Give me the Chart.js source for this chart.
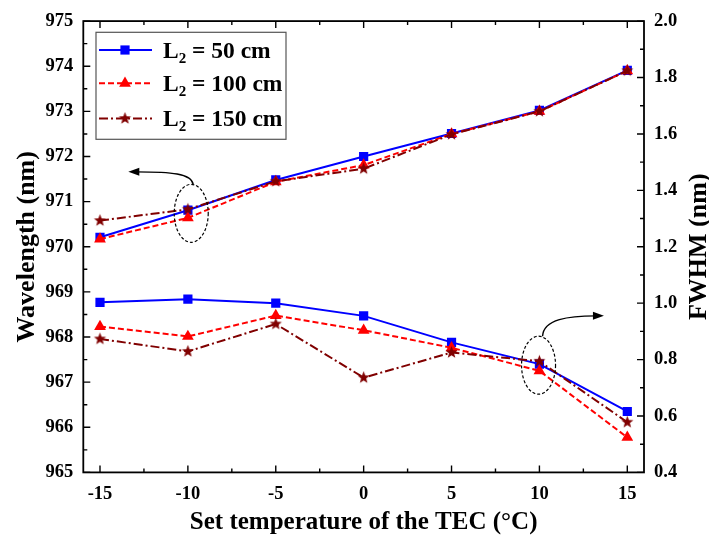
<!DOCTYPE html>
<html>
<head>
<meta charset="utf-8">
<script src="https://cdn.jsdelivr.net/npm/chart.js@4.4.1/dist/chart.umd.min.js"></script>
<style>
  html, body { margin: 0; padding: 0; background: #fff; }
  #wrap { width: 709px; height: 545px; }
</style>
</head>
<body>
<div id="wrap"><canvas id="tecChart" width="709" height="545"></canvas></div>
<script>
// ---- data ----
const temps = [-15, -10, -5, 0, 5, 10, 15];

// peak wavelength (nm), left axis
const wl50  = [970.21, 970.81, 971.48, 972.00, 972.51, 973.02, 973.91];
const wl100 = [970.17, 970.64, 971.44, 971.81, 972.50, 973.00, 973.90];
const wl150 = [970.58, 970.83, 971.45, 971.73, 972.49, 973.00, 973.90];

// FWHM (nm), right axis
const fw50  = [1.003, 1.014, 1.000, 0.955, 0.861, 0.784, 0.616];
const fw100 = [0.917, 0.882, 0.956, 0.904, 0.842, 0.760, 0.524];
const fw150 = [0.873, 0.829, 0.926, 0.736, 0.825, 0.794, 0.578];

const seriesNames = ['50 cm', '100 cm', '150 cm'];
const xTicks = [-15, -10, -5, 0, 5, 10, 15];
const wlTicks = [965, 966, 967, 968, 969, 970, 971, 972, 973, 974, 975];
const fwTicks = [0.4, 0.6, 0.8, 1.0, 1.2, 1.4, 1.6, 1.8, 2.0];

const FONT = '"Liberation Serif", "Times New Roman", serif';
const BLUE = '#0000ff', RED = '#ff0000', WINE = '#800000';

// filled five-point star used as a point marker
function makeStar(color, r) {
  const c = document.createElement('canvas');
  const s = Math.ceil(r * 2 + 2);
  c.width = s; c.height = s;
  const g = c.getContext('2d');
  g.beginPath();
  for (let i = 0; i < 10; i++) {
    const rr = i % 2 === 0 ? r : r * 0.42;
    const a = -Math.PI / 2 + i * Math.PI / 5;
    const px = s / 2 + rr * Math.cos(a), py = s / 2 + rr * Math.sin(a);
    i === 0 ? g.moveTo(px, py) : g.lineTo(px, py);
  }
  g.closePath();
  g.fillStyle = color;
  g.fill();
  return c;
}
const star = makeStar(WINE, 6.4);

const styles = [
  { color: BLUE, dash: [], pointStyle: 'rect', radius: 6.5 },
  { color: RED, dash: [6, 3], pointStyle: 'triangle', radius: 6.8 },
  { color: WINE, dash: [9, 3, 2, 3], pointStyle: star, radius: 6.4 }
];

function pts(ys) { return temps.map((t, i) => ({ x: t, y: ys[i] })); }

function ds(ys, k, axis) {
  const st = styles[k];
  return {
    label: seriesNames[k],
    data: pts(ys),
    yAxisID: axis,
    borderColor: st.color,
    backgroundColor: st.color,
    borderWidth: 2,
    borderDash: st.dash,
    pointStyle: st.pointStyle,
    pointRadius: st.radius,
    pointBorderWidth: 0,
    pointBackgroundColor: st.color,
    tension: 0,
    order: 3 - k
  };
}

// frame, inward ticks, titles, legend and the two call-out ellipses
const decor = {
  id: 'decor',
  afterDraw(chart) {
    const { ctx, chartArea: a, scales } = chart;
    const xs = scales.x, yl = scales.yl, yr = scales.yr;
    ctx.save();
    ctx.strokeStyle = '#000';
    ctx.lineWidth = 1.8;
    ctx.strokeRect(a.left, a.top, a.right - a.left, a.bottom - a.top);

    ctx.lineWidth = 1.4;
    ctx.beginPath();
    for (let v = -15; v <= 15.001; v += 2.5) {
      const px = xs.getPixelForValue(v);
      const len = (Math.abs(v) % 5 === 0) ? 7 : 4;
      ctx.moveTo(px, a.bottom); ctx.lineTo(px, a.bottom - len);
      ctx.moveTo(px, a.top); ctx.lineTo(px, a.top + len);
    }
    for (let v = 965; v <= 975.001; v += 0.5) {
      const py = yl.getPixelForValue(v);
      const len = (v % 1 === 0) ? 7 : 4;
      ctx.moveTo(a.left, py); ctx.lineTo(a.left + len, py);
    }
    for (let i = 0; i <= 16; i++) {
      const v = 0.4 + i * 0.1;
      const py = yr.getPixelForValue(v);
      const len = (i % 2 === 0) ? 7 : 4;
      ctx.moveTo(a.right, py); ctx.lineTo(a.right - len, py);
    }
    ctx.stroke();

    // axis titles
    ctx.fillStyle = '#000';
    ctx.font = 'bold 26px ' + FONT;
    ctx.textAlign = 'center';
    ctx.textBaseline = 'middle';
    const midY = (a.top + a.bottom) / 2;
    ctx.save(); ctx.translate(27, midY); ctx.rotate(-Math.PI / 2);
    ctx.fillText('Wavelength (nm)', 0, 0); ctx.restore();
    ctx.save(); ctx.translate(699, midY); ctx.rotate(-Math.PI / 2);
    ctx.fillText('FWHM (nm)', 0, 0); ctx.restore();
    ctx.font = 'bold 25px ' + FONT;
    ctx.fillText('Set temperature of the TEC (\u00B0C)', (a.left + a.right) / 2, 523);

    // call-outs: dashed ellipse + curved arrow
    ctx.lineWidth = 1.2;
    ctx.setLineDash([3, 2]);
    const e1x = xs.getPixelForValue(-9.81), e1y = yl.getPixelForValue(970.74);
    const e2x = xs.getPixelForValue(9.95), e2y = yr.getPixelForValue(0.78);
    ctx.beginPath(); ctx.ellipse(e1x, e1y, 17, 29, 0, 0, Math.PI * 2); ctx.stroke();
    ctx.beginPath(); ctx.ellipse(e2x, e2y, 17, 29, 0, 0, Math.PI * 2); ctx.stroke();
    ctx.setLineDash([]);

    function arrow(x0, y0, c1x, c1y, c2x, c2y, x1, y1, dir) {
      ctx.lineWidth = 1.4;
      ctx.beginPath();
      ctx.moveTo(x0, y0);
      ctx.bezierCurveTo(c1x, c1y, c2x, c2y, x1 - dir * 8, y1);
      ctx.stroke();
      ctx.beginPath();
      ctx.moveTo(x1, y1);
      ctx.lineTo(x1 - dir * 11, y1 - 4);
      ctx.lineTo(x1 - dir * 11, y1 + 4);
      ctx.closePath();
      ctx.fill();
    }
    const t1x = xs.getPixelForValue(-13.39), t1y = yl.getPixelForValue(971.66);
    arrow(e1x + 2, e1y - 29, e1x, e1y - 40, e1x - 20, t1y, t1x, t1y, -1);
    const t2x = xs.getPixelForValue(13.67), t2y = yr.getPixelForValue(0.955);
    arrow(e2x + 4, e2y - 29, e2x + 5, e2y - 46, e2x + 30, t2y, t2x, t2y, 1);

    // legend
    const lx = 96, ly = 32.3, lw = 190, lh = 107;
    ctx.fillStyle = '#fff';
    ctx.fillRect(lx, ly, lw, lh);
    ctx.strokeStyle = '#555';
    ctx.lineWidth = 1.2;
    ctx.strokeRect(lx, ly, lw, lh);
    const rows = [50, 83.3, 118.5];
    rows.forEach((ry, k) => {
      const st = styles[k];
      ctx.strokeStyle = st.color;
      ctx.lineWidth = 2;
      ctx.setLineDash(st.dash);
      ctx.beginPath(); ctx.moveTo(99, ry); ctx.lineTo(152, ry); ctx.stroke();
      ctx.setLineDash([]);
      ctx.fillStyle = st.color;
      Chart.helpers.drawPoint(ctx, { pointStyle: st.pointStyle, radius: st.radius, borderWidth: 0, rotation: 0 }, 125, ry);
      ctx.fillStyle = '#000';
      ctx.textAlign = 'left';
      ctx.textBaseline = 'alphabetic';
      ctx.font = 'bold 23.5px ' + FONT;
      let tx = 163;
      ctx.fillText('L', tx, ry + 7.8);
      tx += ctx.measureText('L').width;
      ctx.font = 'bold 15px ' + FONT;
      ctx.fillText('2', tx, ry + 12.5);
      tx += ctx.measureText('2').width;
      ctx.font = 'bold 23.5px ' + FONT;
      ctx.fillText(' = ' + seriesNames[k], tx, ry + 7.8);
    });
    ctx.restore();
  }
};

const tickFont = { family: FONT, size: 18.5, weight: 'bold' };

new Chart(document.getElementById('tecChart'), {
  type: 'line',
  data: {
    datasets: [
      ds(wl50, 0, 'yl'), ds(wl100, 1, 'yl'), ds(wl150, 2, 'yl'),
      ds(fw50, 0, 'yr'), ds(fw100, 1, 'yr'), ds(fw150, 2, 'yr')
    ]
  },
  options: {
    responsive: false,
    animation: false,
    devicePixelRatio: 1,
    layout: { padding: { top: 20.7, left: 0, right: 0, bottom: 0 } },
    plugins: { legend: { display: false }, tooltip: { enabled: false } },
    scales: {
      x: {
        type: 'linear', min: -15.95, max: 15.95,
        grid: { display: false, drawTicks: false },
        border: { display: false },
        ticks: { font: tickFont, color: '#000', padding: 11, maxRotation: 0 },
        afterBuildTicks: s => { s.ticks = xTicks.map(v => ({ value: v })); },
        afterFit: s => { s.height = 72.6; }
      },
      yl: {
        position: 'left', min: 965, max: 975,
        grid: { display: false, drawTicks: false },
        border: { display: false },
        ticks: { font: tickFont, color: '#000', padding: 10 },
        afterBuildTicks: s => { s.ticks = wlTicks.map(v => ({ value: v })); },
        afterFit: s => { s.width = 83.3; }
      },
      yr: {
        position: 'right', min: 0.4, max: 2.0,
        grid: { display: false, drawTicks: false },
        border: { display: false },
        ticks: { font: tickFont, color: '#000', padding: 10, callback: v => v.toFixed(1) },
        afterBuildTicks: s => { s.ticks = fwTicks.map(v => ({ value: v })); },
        afterFit: s => { s.width = 65; }
      }
    }
  },
  plugins: [decor]
});
</script>
</body>
</html>
